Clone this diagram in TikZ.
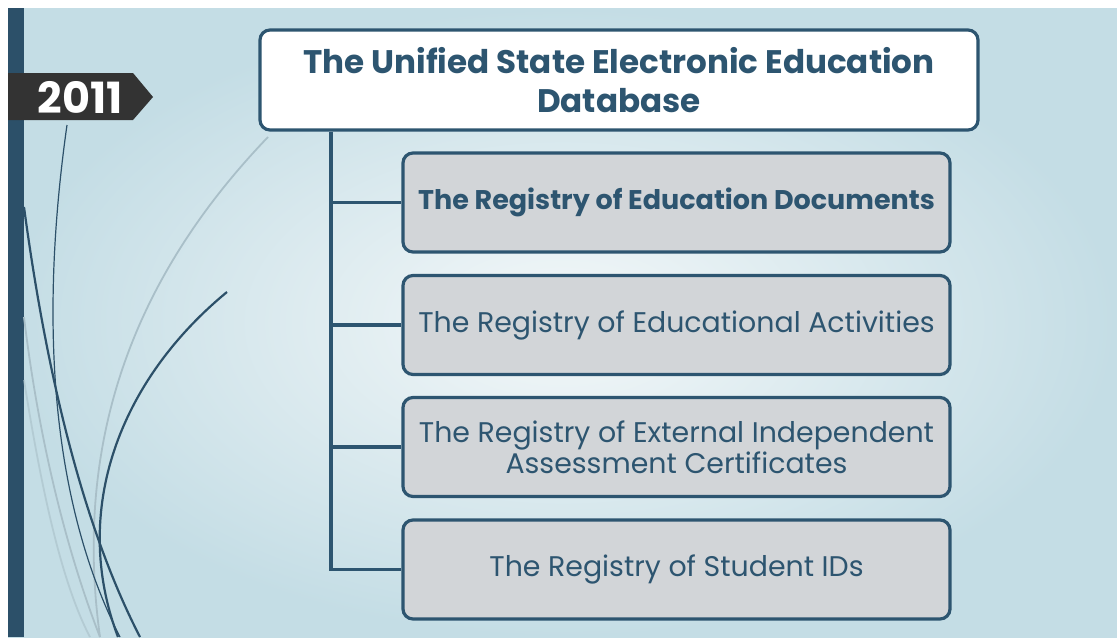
\documentclass[tikz,border=0pt]{standalone}
\usepackage{fontspec}
\setmainfont{Poppins}
\usepackage{tikz}
\usetikzlibrary{positioning}

\definecolor{slate}{HTML}{2D5570}
\definecolor{bar}{HTML}{2C5069}
\definecolor{tag}{HTML}{333333}
\definecolor{cell}{HTML}{D2D5D8}
\definecolor{bgout}{HTML}{C4DDE5}
\definecolor{bgin}{HTML}{F4F8F9}
\definecolor{wisp}{HTML}{A9BFC8}

\begin{document}
\begin{tikzpicture}[x=0.5pt,y=-0.5pt]
    \tikzstyle{box}=[draw=slate,line width=1.6pt,rounded corners=5pt,inner sep=0pt,align=center,text=slate]
    \tikzstyle{head}=[box,fill=white,minimum width=359pt,minimum height=50pt,font=\fontsize{16.3}{19.5}\selectfont\bfseries]
    \tikzstyle{item}=[box,fill=cell,minimum width=273.5pt,minimum height=49.5pt,font=\fontsize{14.2}{15.5}\selectfont]
    \tikzstyle{edge}=[draw=slate,line width=1.6pt]
    \tikzstyle{dark}=[draw=bar,line width=1.1pt]
    \tikzstyle{pale}=[draw=wisp,line width=0.9pt]

    \useasboundingbox (0,0) rectangle (1117,637);
    \fill[white] (0,0) rectangle (1117,637);
    \shade[inner color=bgin,outer color=bgout] (8,8) rectangle (1117,637);
    \fill[bar] (8,8) rectangle (24,637);

    % swirls on the left
    \path[pale] (268,137) .. controls (150,260) and (70,420) .. (100,637);
    \path[pale] (24,317) .. controls (40,450) and (70,560) .. (100,637);
    \path[pale,draw opacity=0.6] (24,380) .. controls (40,480) and (60,580) .. (90,637);
    \path[dark,line width=0.6pt] (67,125) .. controls (45,280) and (40,480) .. (120,637);
    \path[dark] (24,207) .. controls (50,400) and (90,540) .. (140,637);
    \path[dark] (227,292) .. controls (120,380) and (70,510) .. (118,637);

    % year tag
    \fill[tag] (8,73) -- (133,73) -- (153,97) -- (133,120) -- (8,120) -- cycle;
    \node[text=white,font=\fontsize{21.5}{22}\selectfont\bfseries] (year) at (80,97) {2011};

    \node[head] (db) at (619,80) {The Unified State Electronic Education\\Database};

    \node[item,font=\fontsize{13.5}{15}\selectfont\bfseries] (docs) at (676.5,202.5) {The Registry of Education Documents};
    \node[item] (acts) at (676.5,325) {The Registry of Educational Activities};
    \node[item] (cert) at (676.5,447) {The Registry of External Independent\\Assessment Certificates};
    \node[item] (ids)  at (676.5,569.5) {The Registry of Student IDs};

    \coordinate (trunk) at (331,130);

    \path[edge] (db.south -| trunk) -- (trunk |- ids.west) -- (ids.west);
    \path[edge] (trunk |- docs.west) -- (docs.west);
    \path[edge] (trunk |- acts.west) -- (acts.west);
    \path[edge] (trunk |- cert.west) -- (cert.west);
\end{tikzpicture}
\end{document}
